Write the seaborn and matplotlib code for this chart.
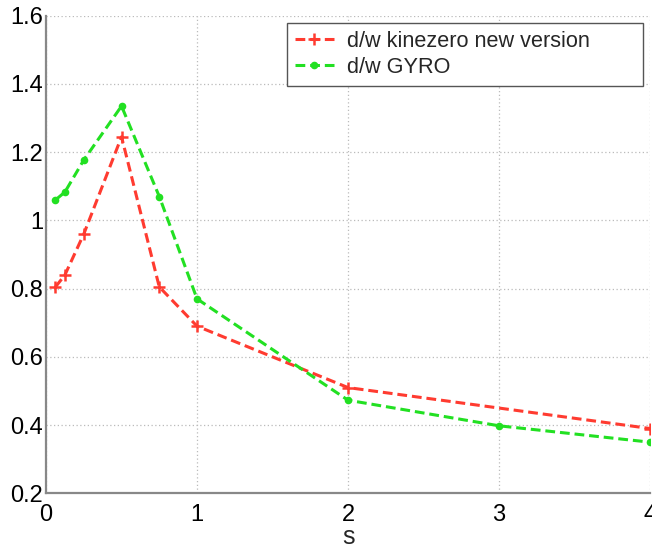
import matplotlib
matplotlib.use("Agg")
import matplotlib.pyplot as plt
import seaborn as sns

# Data
s_kine = [0.0625, 0.125, 0.25, 0.5, 0.75, 1.0, 2.0, 4.0]
dw_kine = [0.805, 0.84, 0.96, 1.245, 0.805, 0.69, 0.51, 0.39]
s_gyro = [0.0625, 0.125, 0.25, 0.5, 0.75, 1.0, 2.0, 3.0, 4.0]
dw_gyro = [1.06, 1.083, 1.177, 1.335, 1.07, 0.77, 0.473, 0.398, 0.35]
label_kine = "d/w kinezero new version"
label_gyro = "d/w GYRO"
xticks = [0, 1, 2, 3, 4]
yticks = [0.2, 0.4, 0.6, 0.8, 1.0, 1.2, 1.4, 1.6]
yticklabels = ["0.2", "0.4", "0.6", "0.8", "1", "1.2", "1.4", "1.6"]

sns.set_style("white")
plt.rcParams["font.family"] = ["Liberation Sans", "DejaVu Sans"]

red = "#ff3b30"
green = "#22e022"

fig = plt.figure(figsize=(6.52, 5.5), dpi=100)
ax = fig.add_axes([0.0706, 0.103, 0.9264, 0.8685])

sns.lineplot(x=s_kine, y=dw_kine, ax=ax, color=red, linestyle=(0, (3.2, 1.6)),
             linewidth=2.2, marker="+", markersize=8, markeredgewidth=1.8,
             markeredgecolor=red, markerfacecolor=red,
             label=label_kine, sort=False)
sns.lineplot(x=s_gyro, y=dw_gyro, ax=ax, color=green, linestyle=(0, (3.2, 1.6)),
             linewidth=2.2, marker="o", markersize=5.5, markeredgewidth=0,
             markerfacecolor=green, markeredgecolor=green,
             label=label_gyro, sort=False)

ax.set_xlim(0, 4)
ax.set_ylim(0.2, 1.6)
ax.set_xticks(xticks)
ax.set_xticklabels([str(t) for t in xticks])
ax.set_yticks(yticks)
ax.set_yticklabels(yticklabels)
ax.grid(True, color="#bbbbbb", linestyle=(0, (1, 2)), linewidth=0.9)
ax.tick_params(axis="both", direction="in", length=4, width=1, color="#888888",
               labelsize=17, labelcolor="black")
ax.tick_params(axis="y", pad=2)
ax.tick_params(axis="x", pad=8)
for side in ["top", "right"]:
    ax.spines[side].set_visible(False)
for side in ["left", "bottom"]:
    ax.spines[side].set_color("#888888")
    ax.spines[side].set_linewidth(1.6)
ax.set_xlabel("s", fontsize=18, labelpad=-1)
ax.set_ylabel("")

leg = ax.legend(loc="upper left", bbox_to_anchor=(0.399, 0.8507, 0.589, 0.134),
                mode="expand", borderaxespad=0, fontsize=15.6,
                frameon=True, fancybox=False, edgecolor="#555555",
                handlelength=1.8, handletextpad=0.6, borderpad=0.35,
                labelspacing=0.25, framealpha=1)
leg.get_frame().set_linewidth(1.0)

fig.savefig("out.png", dpi=100)
